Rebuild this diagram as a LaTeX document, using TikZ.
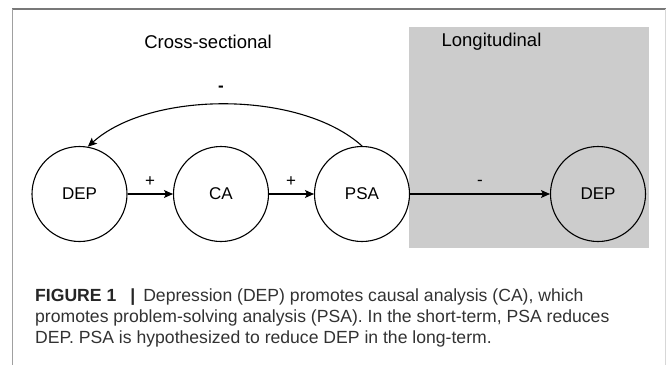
\documentclass[tikz,border=0pt]{standalone}
\usepackage{fontspec}
\setmainfont{Liberation Sans}
\usetikzlibrary{arrows.meta}
\definecolor{panel}{RGB}{204,204,204}
\definecolor{captxt}{RGB}{50,50,50}
\definecolor{frametop}{RGB}{120,120,120}
\definecolor{frameleft}{RGB}{160,160,160}
\definecolor{frameright}{RGB}{215,215,215}
\tikzset{
  var/.style={circle, draw=black, line width=1.1pt, minimum size=95pt, inner sep=0pt, font=\fontsize{17}{20}\selectfont},
  link/.style={line width=1.1pt, -{Stealth[length=9pt,width=8pt,inset=2pt]}},
  sign/.style={font=\fontsize{17}{20}\selectfont, inner sep=0pt},
  heading/.style={font=\fontsize{18.5}{22}\selectfont, inner sep=0pt},
  capline/.style={anchor=base west, inner sep=0pt, text=captxt, font=\fontsize{17.6}{21}\selectfont}
}
\begin{document}
\begin{tikzpicture}[x=1pt,y=-1pt]
\useasboundingbox (0,0) rectangle (667,365);
% frame
\draw[frametop, line width=1.3pt] (12,9) -- (665.5,9);
\draw[frameleft, line width=1.1pt] (12.5,9) -- (12.5,365);
\draw[frameright, line width=0.9pt] (665.5,9) -- (665.5,365);
% longitudinal panel
\fill[panel] (409,27) rectangle (649,248);
% headings
\node[heading] (hcross) at (208,42) {Cross-sectional};
\node[heading] (hlong) at (491.5,42) {Longitudinal};
% nodes
\node[var, fill=white] (dep) at (79.5,194) {DEP};
\node[var, fill=white] (ca) at (221,194) {CA};
\node[var, fill=white] (psa) at (362,194) {PSA};
\node[var] (dep2) at (598,194) {DEP};
% connectors
\draw[link] (dep) -- (ca);
\draw[link] (ca) -- (psa);
\draw[link] (psa) -- (dep2);
\draw[link] (psa.north) .. controls +(-62,-56) and +(62,-56) .. (dep.80);
% signs
\node[sign] (s1) at (150,182) {+};
\node[sign] (s2) at (291,182) {+};
\node[sign] (s3) at (221,89) {\textbf{-}};
\node[sign] (s4) at (480,183) {-};
% caption
\node[capline] (c1) at (35,301) {{\color{black!85}\textbf{FIGURE 1}}\hspace{14pt}{\color{black!85}\textbf{|}}\hspace{8pt}Depression (DEP) promotes causal analysis (CA), which};
\node[capline] (c2) at (35,322) {promotes problem-solving analysis (PSA). In the short-term, PSA reduces};
\node[capline] (c3) at (35,343) {DEP. PSA is hypothesized to reduce DEP in the long-term.};
\end{tikzpicture}
\end{document}
